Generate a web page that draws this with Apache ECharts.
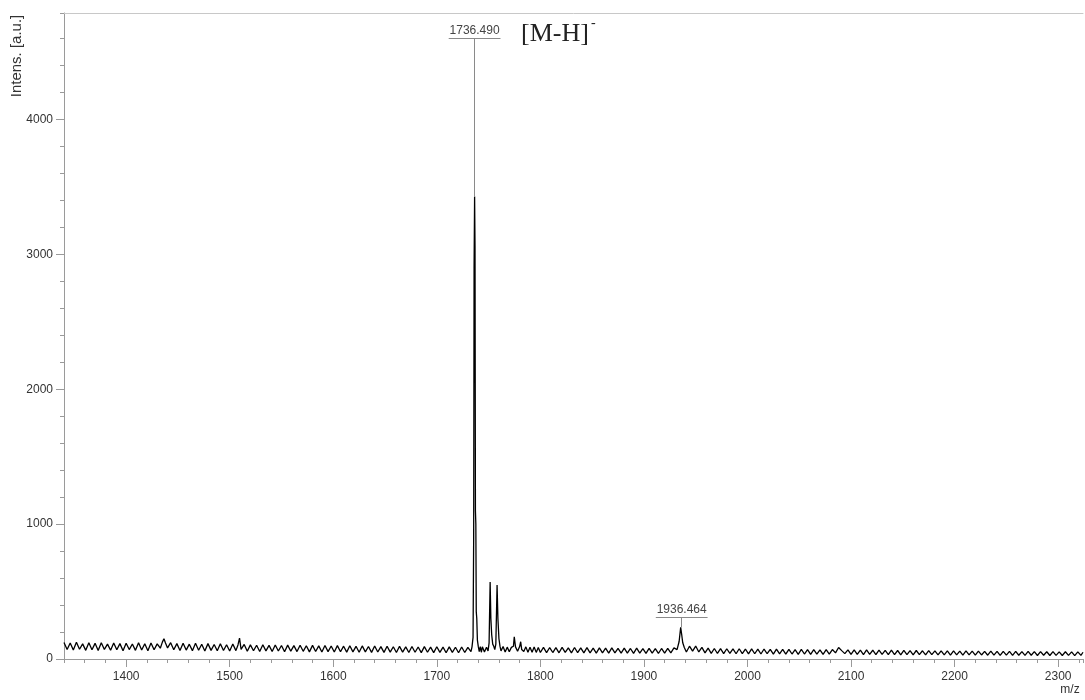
<!DOCTYPE html>
<html>
<head>
<meta charset="utf-8">
<title>MALDI spectrum</title>
<script src="https://cdn.jsdelivr.net/npm/echarts@6/dist/echarts.min.js"></script>
<style>
  html, body { margin: 0; padding: 0; background: #fff; }
  #chart { width: 1085px; height: 700px; }
</style>
</head>
<body>
<div id="chart"></div>
<script>
// m/z ticks
const xMajorTicks = [1400, 1500, 1600, 1700, 1800, 1900, 2000, 2100, 2200, 2300]
const yMajorTicks = [0, 1000, 2000, 3000, 4000]

// spectrum, [m/z, intensity]
const lowMassNoise = [
  [1340, 122], [1343, 70], [1346, 118], [1349, 66], [1352, 124], [1355, 72], [1358, 112], [1361, 64],
  [1364, 120], [1367, 69], [1370, 116], [1373, 63], [1376, 121], [1379, 71], [1382, 110], [1385, 65],
  [1388, 119], [1391, 68], [1394, 114], [1397, 62], [1400, 117], [1403, 70], [1406, 111], [1409, 64],
  [1412, 120], [1415, 67], [1418, 113], [1421, 61], [1424, 118], [1427, 69], [1430, 112], [1433, 80],
  [1435, 125], [1436.5, 150], [1438, 118], [1440, 82], [1443, 121], [1446, 68], [1449, 114], [1452, 63],
  [1455, 117], [1458, 66], [1461, 110], [1464, 62], [1467, 116], [1470, 65], [1473, 109], [1476, 60],
  [1479, 114], [1482, 64], [1485, 108], [1488, 61], [1491, 113], [1494, 63], [1497, 106], [1500, 59],
  [1503, 111], [1506, 62], [1508, 104], [1509.5, 155], [1511, 72], [1514, 108], [1517, 58], [1520, 105],
  [1523, 61], [1526, 102], [1529, 56], [1532, 106], [1535, 60], [1538, 101], [1541, 55], [1544, 104],
  [1547, 59], [1550, 100], [1553, 54], [1556, 103], [1559, 58], [1562, 99], [1565, 55], [1568, 102],
  [1571, 57], [1574, 98], [1577, 53], [1580, 101], [1583, 56], [1586, 97], [1589, 52], [1592, 100],
  [1595, 55], [1598, 96], [1601, 52], [1604, 99], [1607, 54], [1610, 95], [1613, 51], [1616, 98],
  [1619, 53], [1622, 94], [1625, 50], [1628, 97], [1631, 53], [1634, 93], [1637, 49], [1640, 96],
  [1643, 52], [1646, 92], [1649, 49], [1652, 95], [1655, 51], [1658, 91], [1661, 48], [1664, 94],
  [1667, 51], [1670, 90], [1673, 48], [1676, 93], [1679, 50], [1682, 89], [1685, 47], [1688, 92],
  [1691, 50], [1694, 88], [1697, 47], [1700, 91], [1703, 49], [1706, 88], [1709, 46], [1712, 90],
  [1715, 49], [1718, 87], [1721, 46], [1724, 89], [1727, 48], [1730, 86], [1733, 55]
]

const mainPeakRegion = [
  [1734, 90], [1735, 160], [1735.6, 900], [1736.0, 2900], [1736.5, 3430], [1736.9, 3060],
  [1737.3, 1100], [1737.7, 1000], [1738.1, 350], [1738.6, 300], [1739.2, 140], [1740, 95],
  [1741, 55], [1742, 92], [1743, 50], [1744, 90], [1746, 52], [1748, 88], [1749.5, 60],
  [1750.5, 120], [1751.5, 570], [1752.2, 300], [1753, 180], [1754, 110], [1755, 95], [1756, 70],
  [1757, 110], [1758.2, 548], [1759, 300], [1760, 150], [1761, 95], [1762, 60], [1764, 92],
  [1766, 52], [1768, 88], [1770, 54], [1772, 86], [1774, 95], [1774.8, 165], [1776, 90],
  [1778, 58], [1780, 92], [1781, 128], [1782, 70], [1784, 55], [1786, 90], [1788, 50], [1790, 88],
  [1792, 50], [1794, 89], [1796, 49], [1798, 86], [1800, 48]
]

const highMassNoise = [
  [1803, 86], [1806, 47], [1809, 85], [1812, 48], [1815, 84], [1818, 46], [1821, 86], [1824, 49],
  [1827, 83], [1830, 45], [1833, 85], [1836, 47], [1839, 82], [1842, 45], [1845, 84], [1848, 46],
  [1851, 81], [1854, 44], [1857, 83], [1860, 46], [1863, 80], [1866, 43], [1869, 82], [1872, 45],
  [1875, 79], [1878, 43], [1881, 81], [1884, 44], [1887, 78], [1890, 42], [1893, 80], [1896, 44],
  [1899, 77], [1902, 42], [1905, 79], [1908, 43], [1911, 77], [1914, 41], [1917, 78], [1920, 44],
  [1923, 79], [1926, 46], [1929, 82], [1932, 70], [1934, 130], [1935.5, 235], [1936.5, 180],
  [1937.5, 120], [1939, 85], [1941, 52], [1944, 95], [1947, 58], [1950, 96], [1953, 52], [1956, 86],
  [1959, 45], [1962, 80], [1965, 42], [1968, 78], [1971, 41], [1974, 77], [1977, 40], [1980, 76],
  [1983, 41], [1986, 75], [1989, 39], [1992, 76], [1995, 40], [1998, 74], [2001, 38], [2004, 75],
  [2007, 39], [2010, 73], [2013, 37], [2016, 74], [2019, 39], [2022, 72], [2025, 36], [2028, 73],
  [2031, 38], [2034, 71], [2037, 36], [2040, 72], [2043, 37], [2046, 70], [2049, 35], [2052, 71],
  [2055, 37], [2058, 69], [2061, 34], [2064, 70], [2067, 36], [2070, 68], [2073, 34], [2076, 69],
  [2079, 36], [2082, 70], [2085, 45], [2088, 85], [2089.5, 98], [2091, 62], [2094, 40], [2097, 68],
  [2100, 34], [2103, 67], [2106, 35], [2109, 66], [2112, 33], [2115, 67], [2118, 35], [2121, 65],
  [2124, 32], [2127, 66], [2130, 34], [2133, 64], [2136, 32], [2139, 65], [2142, 33], [2145, 63],
  [2148, 31], [2151, 64], [2154, 33], [2157, 62], [2160, 31], [2163, 63], [2166, 32], [2169, 61],
  [2172, 30], [2175, 62], [2178, 32], [2181, 60], [2184, 30], [2187, 61], [2190, 31], [2193, 60],
  [2196, 29], [2199, 60], [2202, 31], [2205, 59], [2208, 29], [2211, 60], [2214, 30], [2217, 58],
  [2220, 28], [2223, 59], [2226, 30], [2229, 57], [2232, 28], [2235, 58], [2238, 29], [2241, 57],
  [2244, 27], [2247, 57], [2250, 29], [2253, 56], [2256, 27], [2259, 57], [2262, 28], [2265, 55],
  [2268, 27], [2271, 56], [2274, 28], [2277, 55], [2280, 26], [2283, 55], [2286, 28], [2289, 54],
  [2292, 26], [2295, 55], [2298, 27], [2301, 53], [2304, 26], [2307, 54], [2310, 27], [2313, 53],
  [2316, 25], [2319, 53], [2322, 27], [2324, 50]
]

// labelled peaks: [m/z, peak top, label height, label]
const peakLabels = [
  [1736.49, 3430, 4600, '1736.490'],
  [1936.464, 235, 306, '1936.464']
]

const spectrum = lowMassNoise.concat(mainPeakRegion, highMassNoise)

const axisGray = '#9a9a9a'
const labelFont = 'Liberation Sans, Arial, sans-serif'

const markLines = []
peakLabels.forEach(p => {
  markLines.push([{ coord: [p[0], p[1]] }, { coord: [p[0], p[2]] }])
  markLines.push([
    {
      coord: [p[0] - 25, p[2]],
      label: {
        show: true,
        position: 'middle',
        distance: 2,
        formatter: p[3],
        color: '#444',
        fontSize: 12,
        fontFamily: labelFont
      }
    },
    { coord: [p[0] + 25, p[2]] }
  ])
})

const chart = echarts.init(document.getElementById('chart'))
chart.setOption({
  animation: false,
  grid: { left: 64, right: 2, top: 13, bottom: 41 },
  xAxis: [
    {
      type: 'value',
      min: 1340,
      max: 2324,
      interval: 20,
      position: 'bottom',
      axisLine: { lineStyle: { color: axisGray } },
      axisTick: { length: 4, lineStyle: { color: axisGray } },
      axisLabel: {
        customValues: xMajorTicks,
        formatter: v => String(v),
        margin: 12,
        color: '#333',
        fontSize: 12,
        fontFamily: labelFont
      },
      splitLine: { show: false }
    },
    {
      type: 'value',
      min: 1340,
      max: 2324,
      position: 'bottom',
      axisLine: { show: false },
      axisTick: { customValues: xMajorTicks, length: 8, lineStyle: { color: axisGray } },
      axisLabel: { show: false },
      splitLine: { show: false }
    },
    {
      // frame line along the top
      type: 'value',
      min: 1340,
      max: 2324,
      position: 'top',
      axisLine: { lineStyle: { color: '#c8c8c8' } },
      axisTick: { show: false },
      axisLabel: { show: false },
      splitLine: { show: false }
    }
  ],
  yAxis: [
    {
      type: 'value',
      min: 0,
      max: 4790,
      interval: 200,
      axisLine: { show: true, lineStyle: { color: axisGray } },
      axisTick: { show: true, length: 4, lineStyle: { color: axisGray } },
      axisLabel: {
        customValues: yMajorTicks,
        formatter: v => String(v),
        margin: 11,
        color: '#333',
        fontSize: 12,
        fontFamily: labelFont
      },
      splitLine: { show: false }
    },
    {
      type: 'value',
      min: 0,
      max: 4790,
      position: 'left',
      axisLine: { show: false },
      axisTick: { show: true, customValues: yMajorTicks, length: 8, lineStyle: { color: axisGray } },
      axisLabel: { show: false },
      splitLine: { show: false }
    }
  ],
  series: [
    {
      type: 'line',
      data: spectrum,
      showSymbol: false,
      sampling: null,
      lineStyle: { color: '#000', width: 1.3 },
      markLine: {
        silent: true,
        symbol: ['none', 'none'],
        animation: false,
        label: { show: false },
        lineStyle: { color: '#8a8a8a', width: 1, type: 'solid' },
        emphasis: { disabled: true },
        data: markLines
      }
    }
  ],
  graphic: [
    {
      type: 'text',
      x: 17,
      y: 56,
      rotation: Math.PI / 2,
      style: {
        text: 'Intens. [a.u.]',
        fill: '#333',
        font: '15px ' + labelFont,
        align: 'center',
        verticalAlign: 'middle'
      }
    },
    {
      type: 'text',
      x: 1070,
      y: 690,
      style: {
        text: 'm/z',
        fill: '#333',
        font: '12px ' + labelFont,
        align: 'center',
        verticalAlign: 'middle'
      }
    },
    {
      type: 'text',
      x: 521,
      y: 34,
      style: {
        text: '[M-H]',
        fill: '#222',
        font: '26px Liberation Serif, Times New Roman, serif',
        align: 'left',
        verticalAlign: 'middle'
      }
    },
    {
      type: 'text',
      x: 591,
      y: 23,
      style: {
        text: '-',
        fill: '#222',
        font: '14px Liberation Serif, Times New Roman, serif',
        align: 'left',
        verticalAlign: 'middle'
      }
    }
  ]
})
</script>
</body>
</html>
